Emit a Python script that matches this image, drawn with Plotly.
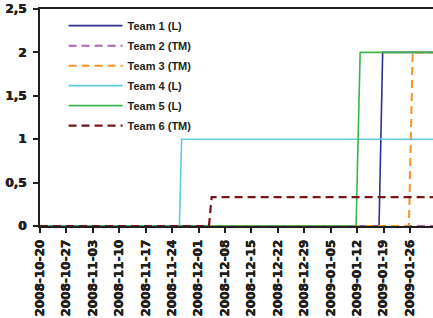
import plotly.graph_objects as go

# ---- data (change points) ----
team1_x = ["2008-10-20", "2009-01-17 19:00", "2009-01-18 18:00", "2009-02-03"]
team1_y = [0, 0, 2, 2]
team2_x = ["2008-10-20", "2009-02-03"]
team2_y = [0, 0]
team3_x = ["2008-10-20", "2009-01-25 17:00", "2009-01-26 17:00", "2009-02-03"]
team3_y = [0, 0, 2, 2]
team4_x = ["2008-10-20", "2008-11-25 22:00", "2008-11-26 12:00", "2009-02-03"]
team4_y = [0, 0, 1, 1]
team5_x = ["2008-10-20", "2009-01-11 17:00", "2009-01-12 19:00", "2009-02-03"]
team5_y = [0, 0, 2, 2]
team6_x = ["2008-10-20", "2008-12-03 18:00", "2008-12-04 11:00", "2009-02-03"]
team6_y = [0, 0, 1 / 3, 1 / 3]

names = ["Team 1 (L)", "Team 2 (TM)", "Team 3 (TM)", "Team 4 (L)", "Team 5 (L)", "Team 6 (TM)"]
xs = [team1_x, team2_x, team3_x, team4_x, team5_x, team6_x]
ys = [team1_y, team2_y, team3_y, team4_y, team5_y, team6_y]
colors = ["#2E3192", "#B160B1", "#F7941D", "#62CADB", "#3DB54A", "#7B1416"]
dashes = ["solid", "8px,5px", "8px,5px", "solid", "solid", "8px,5px"]
widths = [1.6, 2, 2, 1.6, 1.6, 2.2]

x_range = ["2008-10-20", "2009-02-01 02:00"]
x_ticks = ["2008-10-20", "2008-10-27", "2008-11-03", "2008-11-10", "2008-11-17",
           "2008-11-24", "2008-12-01", "2008-12-08", "2008-12-15", "2008-12-22",
           "2008-12-29", "2009-01-05", "2009-01-12", "2009-01-19", "2009-01-26"]
y_ticks = [0, 0.5, 1, 1.5, 2, 2.5]
y_ticktext = ["0", "0,5", "1", "1,5", "2", "2,5"]

TICKFONT = "DejaVu Sans, Verdana, sans-serif"
LEGFONT = "Liberation Sans, Arial, sans-serif"
INK = "#231F20"
tickfont = dict(size=12, family=TICKFONT, color=INK, weight="bold",
                shadow="0.4px 0 0 #231F20, -0.2px 0 0 #231F20")

fig = go.Figure()
for n, x, y, c, d, w in zip(names, xs, ys, colors, dashes, widths):
    fig.add_trace(go.Scatter(x=x, y=y, mode="lines", name=n, legendgroup=n,
                             line=dict(color=c, dash=d, width=w)))

fig.update_layout(
    width=433, height=318,
    margin=dict(l=40, r=0, t=9, b=92),
    paper_bgcolor="white", plot_bgcolor="white",
    font=dict(family=LEGFONT, color=INK),
    showlegend=True,
    legend=dict(x=0.06, y=0.99, xanchor="left", yanchor="top",
                bgcolor="rgba(0,0,0,0)", borderwidth=0,
                font=dict(size=11, family=LEGFONT, color=INK, weight="bold"),
                itemwidth=54, tracegroupgap=1),
    xaxis=dict(type="date", range=x_range, tickvals=x_ticks,
               ticktext=x_ticks, tickangle=-90, ticklabelstandoff=2,
               ticks="outside", ticklen=5, tickwidth=1.5, tickcolor=INK,
               showline=True, linecolor=INK, linewidth=2, mirror=True,
               showgrid=False, zeroline=False, tickfont=tickfont),
    yaxis=dict(range=[0, 2.5], tickvals=y_ticks, ticktext=y_ticktext,
               ticklabelstandoff=4,
               ticks="outside", ticklen=5, tickwidth=1.5, tickcolor=INK,
               showline=True, linecolor=INK, linewidth=2,
               showgrid=False, zeroline=False, tickfont=tickfont),
)

fig.write_html("out.html", config={"displayModeBar": False},
               post_script="document.body.style.margin='0';")
